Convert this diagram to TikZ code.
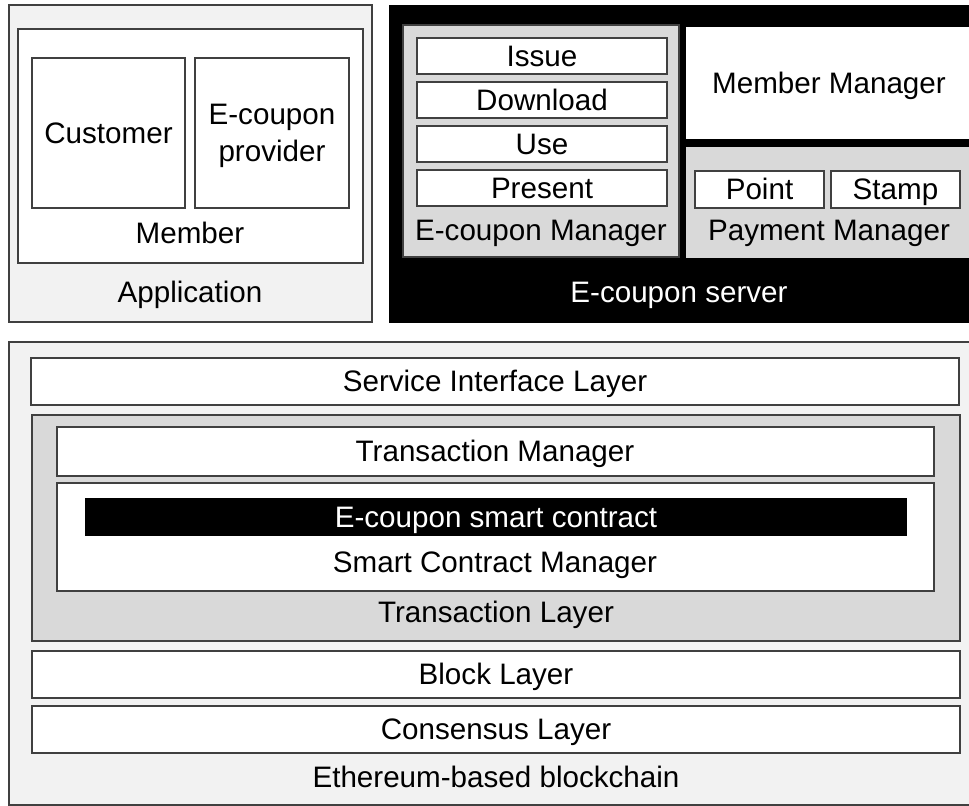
\documentclass[tikz,border=0pt]{standalone}
\usepackage{fontspec}
\setmainfont{Liberation Sans}
\definecolor{linegray}{HTML}{404040}
\definecolor{panelgray}{HTML}{F2F2F2}
\definecolor{mgrgray}{HTML}{D9D9D9}

\begin{document}
\begin{tikzpicture}[x=0.5pt, y=-0.5pt,
    box/.style={draw=linegray, line width=0.8pt, fill=white},
    panel/.style={draw=linegray, line width=0.8pt, fill=panelgray},
    mgr/.style={draw=linegray, line width=0.8pt, fill=mgrgray},
    txt/.style={font=\fontsize{14.8}{18.5}\selectfont, inner sep=0pt, align=center,
        text height=10.7pt, text depth=0pt}]
    \clip (0, 0) rectangle (969, 806);
    \fill[white] (0, 0) rectangle (969, 806);
    % application side
    \begin{scope}
        \draw[panel] (9, 5) rectangle (372, 322);
        \draw[box] (18, 29) rectangle (363, 263);
        \draw[box] (32, 58) rectangle (185, 208);
        \draw[box] (195, 58) rectangle (349, 208);
        \node[txt] (customer) at (108.5, 133) {Customer};
        \node[txt] (provider) at (272, 151) {E-coupon\\provider};
        \node[txt] (member) at (190, 233) {Member};
        \node[txt] (app) at (190, 292) {Application};
    \end{scope}
    % server side
    \begin{scope}
        \draw[fill=black, draw=black] (389, 5) rectangle (990, 322);
        \draw[mgr] (403, 25) rectangle (679, 257);
        \draw[box] (417, 38) rectangle (667, 74);
        \draw[box] (417, 82) rectangle (667, 118);
        \draw[box] (417, 126) rectangle (667, 162);
        \draw[box] (417, 170) rectangle (667, 206);
        \node[txt] (issue) at (542, 56) {Issue};
        \node[txt] (download) at (542, 100) {Download};
        \node[txt] (use) at (542, 144) {Use};
        \node[txt] (present) at (542, 188) {Present};
        \node[txt] (ecm) at (541, 230) {E-coupon Manager};
        \draw[fill=white, draw=white] (686, 27) rectangle (990, 138);
        \node[txt] (membermgr) at (829, 83) {Member Manager};
        \draw[fill=mgrgray, draw=mgrgray] (686, 147) rectangle (990, 257);
        \draw[box] (695, 171) rectangle (824, 208);
        \draw[box] (831, 171) rectangle (960, 208);
        \node[txt] (point) at (759.5, 189) {Point};
        \node[txt] (stamp) at (895.5, 189) {Stamp};
        \node[txt] (paymgr) at (829, 230) {Payment Manager};
        \node[txt, text=white] (server) at (679, 292) {E-coupon server};
    \end{scope}
    % blockchain
    \begin{scope}
        \draw[panel] (9, 342) rectangle (990, 805);
        \draw[box] (31, 358) rectangle (959, 405);
        \node[txt] (service) at (495, 381) {Service Interface Layer};
        \draw[mgr] (32, 415) rectangle (960, 641);
        \draw[box] (57, 427) rectangle (934, 476);
        \node[txt] (txmgr) at (495, 451) {Transaction Manager};
        \draw[box] (57, 483) rectangle (934, 591);
        \fill[black] (85, 498) rectangle (907, 536);
        \node[txt, text=white] (contract) at (496, 517) {E-coupon smart contract};
        \node[txt] (scm) at (495, 562) {Smart Contract Manager};
        \node[txt] (txlayer) at (496, 612) {Transaction Layer};
        \draw[box] (32, 651) rectangle (960, 698);
        \node[txt] (block) at (496, 674) {Block Layer};
        \draw[box] (32, 706) rectangle (960, 753);
        \node[txt] (consensus) at (496, 729) {Consensus Layer};
        \node[txt] (chain) at (496, 777) {Ethereum-based blockchain};
    \end{scope}
\end{tikzpicture}
\end{document}
